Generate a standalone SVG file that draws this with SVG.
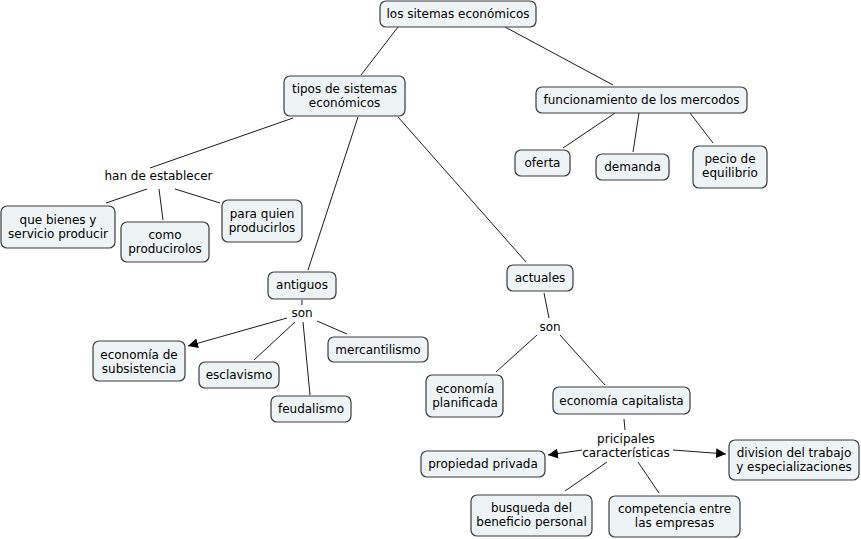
<svg xmlns="http://www.w3.org/2000/svg" width="861" height="539" viewBox="0 0 861 539">
<style>
.n rect{fill:#eef3f5;stroke:#3a3a3a;stroke-width:1.2}
.sh{fill:#9a9a9a}
text{font-family:"DejaVu Sans",Verdana,sans-serif;font-size:12px;fill:#000;text-anchor:middle}
.c line{stroke:#1a1a1a;stroke-width:1}
</style>
<defs>
<marker id="ah" viewBox="0 0 10 10" refX="10" refY="5" markerWidth="10" markerHeight="10" markerUnits="userSpaceOnUse" orient="auto">
<path d="M0,0 L10,5 L0,10 z" fill="#000"/>
</marker>
</defs>
<rect width="861" height="539" fill="#fff"/>
<g class="c" id="connectors">
<line x1="398" y1="27" x2="361" y2="75"/>
<line x1="505" y1="27" x2="613" y2="85"/>
<line x1="615" y1="113" x2="563" y2="148"/>
<line x1="639" y1="113" x2="633" y2="152"/>
<line x1="690" y1="113" x2="713" y2="143"/>
<line x1="293" y1="118" x2="150" y2="168"/>
<line x1="147" y1="189" x2="106" y2="203"/>
<line x1="159" y1="189" x2="163" y2="220"/>
<line x1="175" y1="189" x2="220" y2="203"/>
<line x1="358" y1="117" x2="308" y2="270"/>
<line x1="398" y1="117" x2="526" y2="262"/>
<line x1="302" y1="300" x2="302" y2="305"/>
<line x1="287" y1="318" x2="188" y2="346" marker-end="url(#ah)"/>
<line x1="295" y1="322" x2="254" y2="360"/>
<line x1="303" y1="322" x2="310" y2="395"/>
<line x1="317" y1="321" x2="347" y2="334"/>
<line x1="544" y1="293" x2="549" y2="318"/>
<line x1="537" y1="335" x2="496" y2="372"/>
<line x1="560" y1="335" x2="605" y2="385"/>
<line x1="624" y1="419" x2="625" y2="430"/>
<line x1="582" y1="450" x2="548" y2="455" marker-end="url(#ah)"/>
<line x1="673" y1="450" x2="726" y2="454" marker-end="url(#ah)"/>
<line x1="607" y1="462" x2="565" y2="491"/>
<line x1="638" y1="462" x2="659" y2="493"/>
</g>
<g class="n" id="n-sistemas"><rect x="380" y="1" width="156" height="26" rx="6"/><text x="458" y="18">los sitemas económicos</text></g>
<g class="n" id="n-tipos"><rect x="284" y="76" width="121" height="40" rx="6"/><text x="344.5" y="93">tipos de sistemas</text><text x="344.5" y="107">económicos</text></g>
<g class="n" id="n-funcionamiento"><rect x="536" y="87" width="211" height="26" rx="6"/><text x="641.5" y="104">funcionamiento de los mercodos</text></g>
<g class="n" id="n-oferta"><rect x="515" y="150" width="55" height="26" rx="6"/><text x="542.5" y="167">oferta</text></g>
<g class="n" id="n-demanda"><rect x="596" y="154" width="73" height="26" rx="6"/><text x="632.5" y="171">demanda</text></g>
<g class="n" id="n-pecio"><rect x="693" y="146" width="74" height="42" rx="6"/><text x="730" y="163">pecio de</text><text x="730" y="177">equilibrio</text></g>
<g id="l-han"><text x="158.5" y="180">han de establecer</text></g>
<g class="n" id="n-quebienes"><rect x="1" y="206" width="114" height="42" rx="6"/><text x="58" y="224">que bienes y</text><text x="58" y="238">servicio producir</text></g>
<g class="n" id="n-como"><rect x="121" y="222" width="88" height="40" rx="6"/><text x="165" y="239">como</text><text x="165" y="253">producirolos</text></g>
<g class="n" id="n-paraquien"><rect x="222" y="200" width="80" height="42" rx="6"/><text x="262" y="218">para quien</text><text x="262" y="232">producirlos</text></g>
<g class="n" id="n-antiguos"><rect x="268" y="272" width="68" height="27" rx="6"/><text x="302" y="289">antiguos</text></g>
<g id="l-son1"><text x="302" y="317">son</text></g>
<g class="n" id="n-subsistencia"><rect x="93" y="341" width="92" height="40" rx="6"/><text x="139" y="359">economía de</text><text x="139" y="373">subsistencia</text></g>
<g class="n" id="n-esclavismo"><rect x="199" y="362" width="80" height="26" rx="6"/><text x="239" y="379">esclavismo</text></g>
<g class="n" id="n-feudalismo"><rect x="271" y="396" width="80" height="26" rx="6"/><text x="311" y="413">feudalismo</text></g>
<g class="n" id="n-mercantilismo"><rect x="328" y="337" width="100" height="25" rx="6"/><text x="378" y="354">mercantilismo</text></g>
<g class="n" id="n-actuales"><rect x="507" y="265" width="66" height="26" rx="6"/><text x="540" y="282">actuales</text></g>
<g id="l-son2"><text x="550" y="331">son</text></g>
<g class="n" id="n-planificada"><rect x="426" y="375" width="77" height="42" rx="6"/><text x="465" y="393">economía</text><text x="465" y="407">planificada</text></g>
<g class="n" id="n-capitalista"><rect x="553" y="387" width="137" height="27" rx="6"/><text x="621.5" y="405">economía capitalista</text></g>
<g id="l-pricipales"><text x="626" y="443">pricipales</text><text x="626" y="457">características</text></g>
<g class="n" id="n-propiedad"><rect x="421" y="451" width="124" height="26" rx="6"/><text x="483" y="468">propiedad privada</text></g>
<g class="n" id="n-division"><rect x="729" y="440" width="130" height="40" rx="6"/><text x="794" y="457">division del trabajo</text><text x="794" y="471">y especializaciones</text></g>
<g class="n" id="n-busqueda"><rect x="471" y="495" width="121" height="41" rx="6"/><text x="531.5" y="512">busqueda del</text><text x="531.5" y="526">beneficio personal</text></g>
<g class="n" id="n-competencia"><rect x="609" y="496" width="131" height="41" rx="6"/><text x="674.5" y="513">competencia entre</text><text x="674.5" y="527">las empresas</text></g>
</svg>
